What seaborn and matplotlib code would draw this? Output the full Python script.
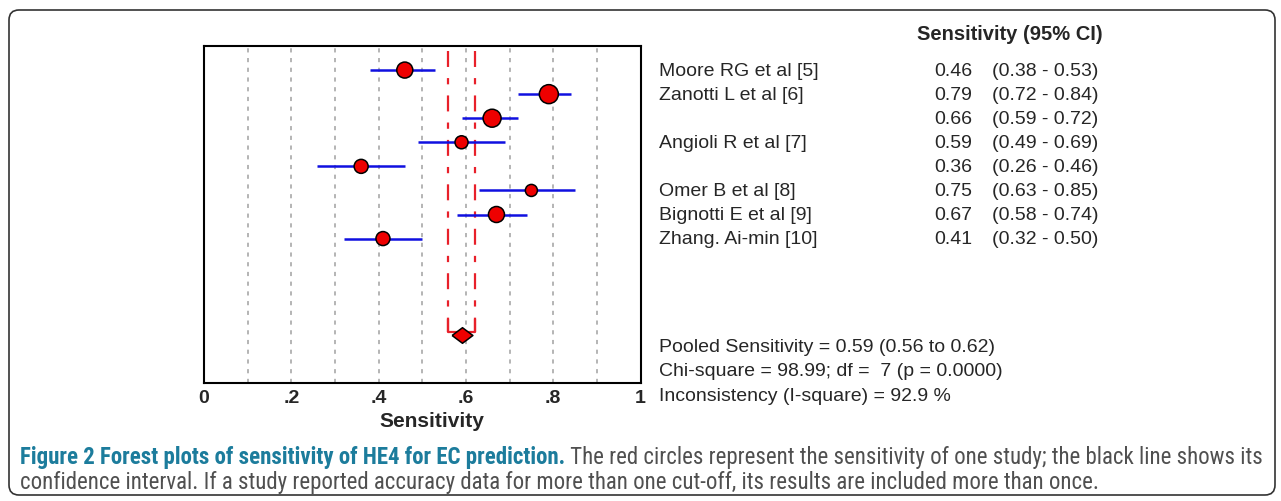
import numpy as np
import pandas as pd
import matplotlib
matplotlib.use("Agg")
import matplotlib.pyplot as plt
import matplotlib.font_manager as fm
from matplotlib.patches import FancyBboxPatch
from matplotlib.transforms import IdentityTransform, blended_transform_factory
import seaborn as sns

# study data
studies = ["Moore RG et al [5]", "Zanotti L et al [6]", "", "Angioli R et al [7]", "",
           "Omer B et al [8]", "Bignotti E et al [9]", "Zhang. Ai-min [10]"]
sens = [0.46, 0.79, 0.66, 0.59, 0.36, 0.75, 0.67, 0.41]
ci_low = [0.38, 0.72, 0.59, 0.49, 0.26, 0.63, 0.58, 0.32]
ci_high = [0.53, 0.84, 0.72, 0.69, 0.46, 0.85, 0.74, 0.50]
weight = [13.5, 19.0, 17.0, 8.9, 10.3, 7.6, 13.5, 10.3]  # relative study weight (%)

pooled, pooled_low, pooled_high = 0.59, 0.56, 0.62
chi2, df_, p_val, i2 = 98.99, 7, 0.0000, 92.9

tick_vals = [0, 0.2, 0.4, 0.6, 0.8, 1.0]
tick_labels = ["0", ".2", ".4", ".6", ".8", "1"]

sns.set_style("white")
plt.rcParams["font.family"] = ["Liberation Sans", "DejaVu Sans"]
plt.rcParams["lines.scale_dashes"] = False

W, H = 1281, 502
fig = plt.figure(figsize=(W / 100, H / 100), dpi=100)
ax = fig.add_axes([204 / W, 1 - 384 / H, 436.5 / W, 337 / H])

df = pd.DataFrame({"study": studies, "sens": sens, "lo": ci_low, "hi": ci_high,
                   "w": weight, "row": np.arange(len(studies))})
pool_row = len(studies) + 3

# grid
for g in np.arange(0.1, 0.95, 0.1):
    ax.axvline(g, color="#a8a8a8", lw=1.2, ls=(0, (3, 4)), zorder=0)

# pooled CI lines
top_y = -0.8
stub_y = pool_row - 0.1
for xv in (pooled_low, pooled_high):
    ax.plot([xv, xv], [top_y, stub_y], color="#e8202a", lw=1.6,
            ls=(0, (11.5, 8, 4.5, 8)), zorder=2)
    ax.plot([xv, xv], [stub_y - 0.55, stub_y], color="#e8202a", lw=1.6, zorder=2)
ax.hlines(stub_y, pooled_low, pooled_high, color="#e8202a", lw=1.6, zorder=2)

# study CIs and points
ax.hlines(df["row"], df["lo"], df["hi"], color="#1010e0", lw=1.8, zorder=3)
sns.scatterplot(data=df, x="sens", y="row", size="w", sizes=(75, 187),
                size_norm=(min(weight), max(weight)), color="#ee0000",
                edgecolor="black", linewidth=1.1, legend=False, ax=ax, zorder=4)
diamond = [(-1, 0), (0, 0.75), (1, 0), (0, -0.75), (-1, 0)]
ax.plot([pooled], [pool_row], marker=diamond, ms=15, color="#ee0000",
        mec="black", mew=1.1, ls="none", zorder=5)

ax.set_xlim(0, 1)
ax.set_ylim(13, -1)
ax.set_yticks([])
ax.set_xticks(tick_vals)
ax.set_xticklabels(tick_labels, fontsize=14, fontweight="bold")
ax.tick_params(axis="x", length=0, pad=4)
ax.set_xlabel("Sensitivity", fontsize=15, fontweight="bold")
ax.xaxis.set_label_coords((432 - 204) / 436.5, -0.083)
ax.set_ylabel("")
for s in ax.spines.values():
    s.set_visible(True)
    s.set_color("black")
    s.set_linewidth(1.5)

# right-hand table
tfs = 14
tr = blended_transform_factory(fig.transFigure, ax.transData)
fig.text(1103 / W, 1 - 35 / H, "Sensitivity (95% CI)", fontsize=14.5,
         fontweight="bold", ha="right", va="center")
for _, r in df.iterrows():
    ax.text(659 / W, r["row"], r["study"], transform=tr, fontsize=tfs,
            ha="left", va="center", clip_on=False)
    ax.text(972 / W, r["row"], f"{r['sens']:.2f}", transform=tr, fontsize=tfs,
            ha="right", va="center", clip_on=False)
    ax.text(992 / W, r["row"], f"({r['lo']:.2f} - {r['hi']:.2f})", transform=tr,
            fontsize=tfs, ha="left", va="center", clip_on=False)

summary = [f"Pooled Sensitivity = {pooled:.2f} ({pooled_low:.2f} to {pooled_high:.2f})",
           f"Chi-square = {chi2:.2f}; df =  {df_} (p = {p_val:.4f})",
           f"Inconsistency (I-square) = {i2:.1f} %"]
for txt, ypx in zip(summary, [348, 372, 397]):
    fig.text(659 / W, 1 - ypx / H, txt, fontsize=tfs, ha="left", va="center")

# outer rounded frame
frame = FancyBboxPatch((9, H - 496), 1266, 485, boxstyle="round,pad=0,rounding_size=10",
                       transform=IdentityTransform(), fill=False, ec="#333333", lw=1.2)
fig.patches.append(frame)

# caption
names = {f.name for f in fm.fontManager.ttflist}
cap_font = "Liberation Sans"
for cand in ["Liberation Sans Narrow", "Roboto Condensed", "Open Sans Condensed", "Roboto"]:
    if cand in names:
        cap_font = cand
        break
bold_part = "Figure 2 Forest plots of sensitivity of HE4 for EC prediction."
rest1 = " The red circles represent the sensitivity of one study; the black line shows its"
line2 = ("confidence interval. If a study reported accuracy data for more than one cut-off, "
         "its results are included more than once.")

fs = 12
t_b = fig.text(20 / W, 1 - 458 / H, bold_part, fontsize=fs, fontweight="bold",
               color="#1c7c9c", family=cap_font, ha="left", va="center")
t_r = fig.text(0.5, 1 - 458 / H, rest1, fontsize=fs, color="#505050",
               family=cap_font, ha="left", va="center")
t_2 = fig.text(20 / W, 1 - 483 / H, line2, fontsize=fs, color="#505050",
               family=cap_font, ha="left", va="center")
fig.canvas.draw()
rend = fig.canvas.get_renderer()
total = t_b.get_window_extent(rend).width + t_r.get_window_extent(rend).width
fs = fs * 1242 / total
for t in (t_b, t_r, t_2):
    t.set_fontsize(fs)
fig.canvas.draw()
bb = t_b.get_window_extent(rend)
t_r.set_x(bb.x1 / W)

fig.savefig("out.png", dpi=100)
